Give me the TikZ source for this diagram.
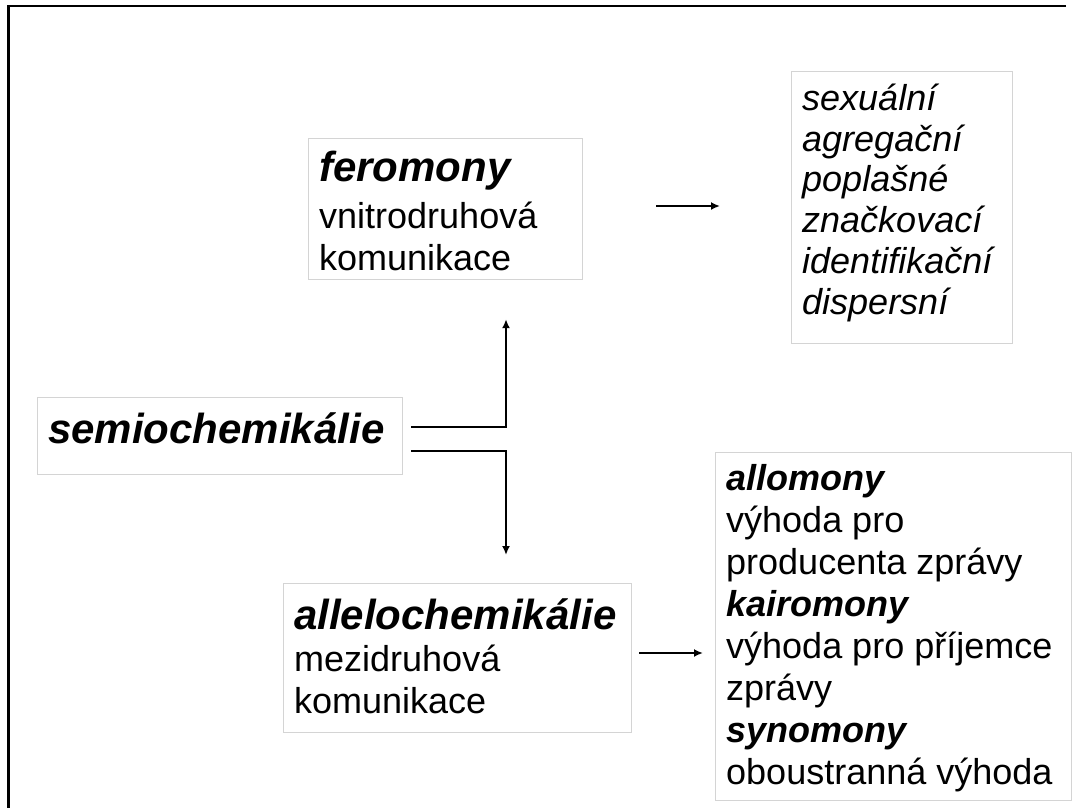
\documentclass[tikz,border=0pt]{standalone}
\usepackage{fontspec}
\setmainfont{Liberation Sans}
\usetikzlibrary{arrows.meta}
\newcommand\bodyfont{\fontsize{36}{42}\selectfont}
\newcommand\bigbi{\fontsize{42}{48}\selectfont\bfseries\itshape}
\newcommand\smallbi{\bfseries\itshape}
\begin{document}
\begin{tikzpicture}[x=1pt,y=-1pt,
  box/.style={draw=black!17, line width=1.2pt, inner sep=0pt, anchor=north west},
  txt/.style={inner sep=0pt, anchor=base west},
  arr/.style={line width=2pt, -{Latex[length=9pt,width=8pt]}},
  frame/.style={draw=black, line width=2.6pt}]
\useasboundingbox (0,0) rectangle (1073,808);
\fill[white] (0,0) rectangle (1073,808);
\draw[frame] (1066,6) -- (8.5,6) -- (8.5,808);
% boxes
\node[box, minimum width=274pt, minimum height=141pt] (fer) at (308,138) {};
\node[box, minimum width=221pt, minimum height=272pt] (sex) at (791,71) {};
\node[box, minimum width=365pt, minimum height=77pt] (semi) at (37,397) {};
\node[box, minimum width=348pt, minimum height=149pt] (alle) at (283,583) {};
\node[box, minimum width=356pt, minimum height=348pt] (allo) at (715,452) {};
% texts
\node[txt] (semit) at (48,443) {\bigbi semiochemikálie};
\node[txt] (fert) at (319,181) {\parbox[t]{260pt}{\bodyfont{\bigbi feromony}\\[5pt]vnitrodruhová\\komunikace}};
\node[txt] (sext) at (802,110.5) {\parbox[t]{210pt}{\fontsize{36}{40.7}\selectfont\itshape sexuální\\agregační\\poplašné\\značkovací\\identifikační\\dispersní}};
\node[txt] (allet) at (294,629) {\parbox[t]{340pt}{\bodyfont{\bigbi allelochemikálie}\\[0.5pt]mezidruhová\\komunikace}};
\node[txt] (allot) at (726,490.7) {\parbox[t]{345pt}{\bodyfont{\smallbi allomony}\\výhoda pro\\producenta zprávy\\{\smallbi kairomony}\\výhoda pro příjemce\\zprávy\\{\smallbi synomony}\\oboustranná výhoda}};
% connectors
\coordinate (upS) at ([xshift=8pt,yshift=9.5pt]semi.east);
\coordinate (upE) at ([yshift=-39pt]fer.south -| 506,0);
\coordinate (dnS) at ([xshift=8pt,yshift=-14.5pt]semi.east);
\coordinate (dnE) at ([yshift=28pt]alle.north -| 506,0);
\draw[arr] (upS) -| (upE);
\draw[arr] (dnS) -| (dnE);
\coordinate (r1S) at ([xshift=73pt]fer.east |- 0,206);
\coordinate (r1E) at ([xshift=-71pt]sex.west |- 0,206);
\draw[arr] (r1S) -- (r1E);
\coordinate (r2S) at ([xshift=7pt]alle.east |- 0,653);
\coordinate (r2E) at ([xshift=-12pt]allo.west |- 0,653);
\draw[arr] (r2S) -- (r2E);
\end{tikzpicture}
\end{document}
